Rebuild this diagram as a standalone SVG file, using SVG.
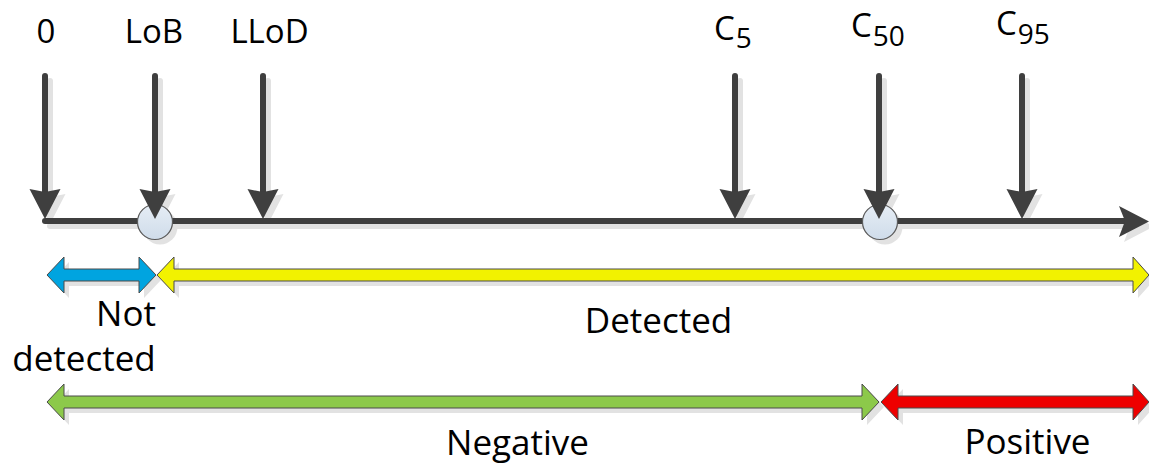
<svg xmlns="http://www.w3.org/2000/svg" xmlns:xlink="http://www.w3.org/1999/xlink" width="1149" height="465" viewBox="0 0 1149 465">
  <style>
    .lbl { font-family: "Open Sans", "Liberation Sans", sans-serif; fill: #000; }
    .top { font-size: 33px; text-anchor: middle; }
    .big { font-size: 35px; text-anchor: middle; }
    .cl { font-size: 33px; }
    .sub { font-size: 28px; }
    .sh { fill: #e2e2e2; stroke: #e2e2e2; }
    .ink { fill: #3f3f3f; stroke: #3f3f3f; }
    .band { stroke: #4a4a4a; stroke-width: 1; stroke-linejoin: miter; }
    .dot { fill: url(#dotFill); stroke: #5a5a5a; stroke-width: 1.2; }
  </style>
  <defs>
    <linearGradient id="dotFill" x1="0" y1="0" x2="0" y2="1">
      <stop offset="0" stop-color="#e6edf5"/>
      <stop offset="1" stop-color="#cfdcea"/>
    </linearGradient>
    <!-- downward marker arrow, drawn about x = 0 -->
    <g id="va">
      <line x1="0" y1="76" x2="0" y2="194" stroke-width="6" stroke-linecap="round"/>
      <path d="M-15.5,189 L0,192 L15.5,189 L0,219 Z" stroke="none"/>
    </g>
    <!-- number line with its head -->
    <g id="axis">
      <line x1="45" y1="221" x2="1126" y2="221" stroke-width="6" stroke-linecap="round"/>
      <path d="M1119,206 L1125,221 L1119,237 L1149,221.5 Z" stroke="none"/>
    </g>
    <circle id="dot" r="17.5"/>
    <!-- range bands -->
    <path id="bBlue" d="M47,275 L64,257 L64,269 L139,269 L139,257 L156,275 L139,293 L139,281 L64,281 L64,293 Z"/>
    <path id="bYellow" d="M157,275 L174,257 L174,269 L1133,269 L1133,257 L1149,275 L1133,293 L1133,281 L174,281 L174,293 Z"/>
    <path id="bGreen" d="M47,402 L64,384 L64,396 L862,396 L862,384 L879,402 L862,420 L862,408 L64,408 L64,420 Z"/>
    <path id="bRed" d="M881,402 L898,384 L898,396 L1133,396 L1133,384 L1149,402 L1133,420 L1133,408 L898,408 L898,420 Z"/>
  </defs>

  <!-- drop shadows -->
  <g id="shadows" class="sh">
    <use href="#axis" x="5" y="5"/>
    <use href="#dot" x="160" y="227" stroke="none"/>
    <use href="#dot" x="885" y="227" stroke="none"/>
    <use href="#va" x="50" y="5"/>
    <use href="#va" x="160" y="5"/>
    <use href="#va" x="268" y="5"/>
    <use href="#va" x="740" y="5"/>
    <use href="#va" x="884" y="5"/>
    <use href="#va" x="1027" y="5"/>
    <g stroke="none">
      <use href="#bBlue" x="5" y="5"/>
      <use href="#bYellow" x="5" y="5"/>
      <use href="#bGreen" x="5" y="5"/>
      <use href="#bRed" x="5" y="5"/>
    </g>
  </g>

  <!-- number line and range bands -->
  <g id="connectors">
    <use href="#axis" class="ink"/>
    <g id="ranges" class="band">
      <use href="#bBlue" fill="#00a4e0"/>
      <use href="#bYellow" fill="#f2f200"/>
      <use href="#bGreen" fill="#8cc94a"/>
      <use href="#bRed" fill="#ee0000"/>
    </g>
  </g>

  <g id="dot-lob"><use href="#dot" x="155" y="222" class="dot"/></g>
  <g id="dot-c50"><use href="#dot" x="880" y="222" class="dot"/></g>

  <g id="m-zero">
    <use href="#va" x="45" class="ink"/>
    <text class="lbl top" x="46" y="43">0</text>
  </g>
  <g id="m-lob">
    <use href="#va" x="155" class="ink"/>
    <text class="lbl top" x="154" y="43">LoB</text>
  </g>
  <g id="m-llod">
    <use href="#va" x="263" class="ink"/>
    <text class="lbl top" x="269.5" y="43">LLoD</text>
  </g>
  <g id="m-c5">
    <use href="#va" x="735" class="ink"/>
    <text class="lbl cl" x="714" y="40">C<tspan class="sub" dx="1" dy="8">5</tspan></text>
  </g>
  <g id="m-c50">
    <use href="#va" x="879" class="ink"/>
    <text class="lbl cl" x="851" y="37">C<tspan class="sub" dx="1" dy="9">50</tspan></text>
  </g>
  <g id="m-c95">
    <use href="#va" x="1022" class="ink"/>
    <text class="lbl cl" x="996" y="35">C<tspan class="sub" dx="1" dy="9">95</tspan></text>
  </g>

  <g id="range-labels">
    <text class="lbl big" x="126" y="326">Not</text>
    <text class="lbl big" x="84" y="371">detected</text>
    <text class="lbl big" x="658.5" y="333">Detected</text>
    <text class="lbl big" x="517.5" y="455">Negative</text>
    <text class="lbl big" x="1027.5" y="454">Positive</text>
  </g>
</svg>
